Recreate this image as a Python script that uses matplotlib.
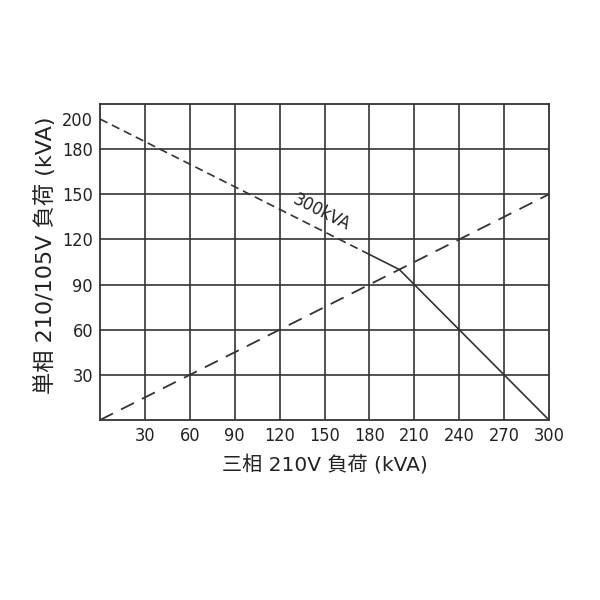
import matplotlib.pyplot as plt
from matplotlib import font_manager

plt.rcParams['font.family'] = ['DejaVu Sans', 'Noto Sans CJK JP']
cond = [f for f in font_manager.fontManager.ttflist
        if f.stretch in ('condensed', 'semi-condensed', 'extra-condensed')
        or 'Narrow' in f.name or 'Condensed' in f.name]
if cond:
    num_font = cond[0].name
    num_stretch = cond[0].stretch
else:
    num_font = 'Liberation Sans'
    num_stretch = 'normal'

# 300kVA limit curve (dashed part, then solid part)
limit_dash_x = [0, 180]
limit_dash_y = [200, 110]
limit_solid_x = [180, 200, 300]
limit_solid_y = [110, 100, 0]

# balance line
balance_x = [0, 300]
balance_y = [0, 150]

xticks = [30, 60, 90, 120, 150, 180, 210, 240, 270, 300]
yticks = [30, 60, 90, 120, 150, 180, 200]
grid_y = [30, 60, 90, 120, 150, 180]

fig = plt.figure(figsize=(6, 6), dpi=100)
ax = fig.add_axes([0.1667, 0.3, 0.7483, 0.5267])

c = '#333333'
for x in xticks[:-1]:
    ax.axvline(x, color=c, lw=1.2, zorder=1)
for y in grid_y:
    ax.axhline(y, color=c, lw=1.2, zorder=1)

ax.plot(limit_dash_x, limit_dash_y, color=c, lw=1.2, ls=(0, (5, 3)))
ax.plot(limit_solid_x, limit_solid_y, color=c, lw=1.2)
ax.plot(balance_x, balance_y, color=c, lw=1.3, ls=(0, (8, 5)))

ax.text(148, 138, '300kVA', rotation=-26.6, ha='center', va='center',
        fontsize=13, family=num_font, stretch=num_stretch, color='#222222')

ax.set_xlim(0, 300)
ax.set_ylim(0, 210)
ax.set_xticks(xticks)
ax.set_yticks(yticks)
ax.tick_params(length=0, pad=5)
for lab in ax.get_xticklabels() + ax.get_yticklabels():
    lab.set_family(num_font)
    lab.set_stretch(num_stretch)
    lab.set_fontsize(13)
    lab.set_color('#222222')
for s in ax.spines.values():
    s.set_color(c)
    s.set_linewidth(1.3)

ax.set_xlabel('三相 210V 負荷 (kVA)', fontsize=14.5, color='#222222', labelpad=7)
ax.set_ylabel('単相 210/105V 負荷 (kVA)', fontsize=16, color='#222222')
ax.yaxis.set_label_coords(-0.098, 0.52)

plt.savefig('out.png', dpi=100)
